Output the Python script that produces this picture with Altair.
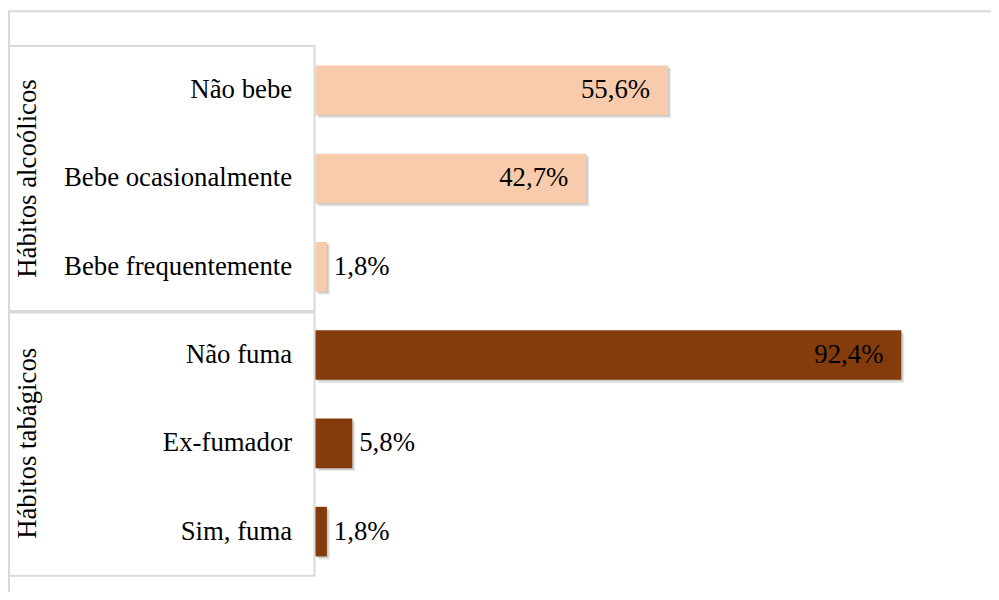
import altair as alt
import pandas as pd

categories = ["Não bebe", "Bebe ocasionalmente", "Bebe frequentemente",
              "Não fuma", "Ex-fumador", "Sim, fuma"]
groups = ["Hábitos alcoólicos"] * 3 + ["Hábitos tabágicos"] * 3
values = [55.6, 42.7, 1.8, 92.4, 5.8, 1.8]
group_names = ["Hábitos alcoólicos", "Hábitos tabágicos"]
group_mid = ["Bebe ocasionalmente", "Ex-fumador"]
colors = ["#F8CBAD", "#843C0C"]

FONT = "Liberation Serif"
FS = 27
GRAY = "#d9d9d9"

df = pd.DataFrame({
    "cat": categories,
    "group": groups,
    "value": values,
    "label": [f"{v:.1f}".replace(".", ",") + "%" for v in values],
})
gdf = pd.DataFrame({"cat": group_mid, "group": group_names})
one = pd.DataFrame({"k": [0]})

y = alt.Y("cat:N", sort=categories,
          scale=alt.Scale(paddingInner=0.438, paddingOuter=0.219),
          axis=alt.Axis(title=None, domain=False, ticks=False, grid=False,
                        labelPadding=24, labelFont=FONT, labelFontSize=FS,
                        labelColor="black", labelLimit=400))
x = alt.X("value:Q", scale=alt.Scale(domain=[0, 105.3], nice=False), axis=None)
color = alt.Color("group:N", scale=alt.Scale(domain=group_names, range=colors), legend=None)

base = alt.Chart(df)

shadow1 = base.mark_bar(color="#000000", opacity=0.10, xOffset=3, x2Offset=3,
                        yOffset=3, y2Offset=3).encode(x=x, y=y)
shadow2 = base.mark_bar(color="#000000", opacity=0.12, xOffset=1.5, x2Offset=1.5,
                        yOffset=1.5, y2Offset=1.5).encode(x=x, y=y)
bars = base.mark_bar().encode(x=x, y=y, color=color)

inside = base.transform_filter("datum.value > 20").mark_text(
    align="right", baseline="middle", dx=-18, font=FONT, fontSize=FS, color="black"
).encode(x=x, y=y, text="label:N")
outside = base.transform_filter("datum.value <= 20").mark_text(
    align="left", baseline="middle", dx=7, font=FONT, fontSize=FS, color="black"
).encode(x=x, y=y, text="label:N")

glabels = alt.Chart(gdf).mark_text(
    angle=270, align="center", baseline="middle", font=FONT, fontSize=FS, color="black"
).encode(y=alt.Y("cat:N", sort=categories), x=alt.value(-290), text="group:N")

box1 = alt.Chart(one).mark_rect(fillOpacity=0, stroke=GRAY, strokeWidth=2).encode(
    x=alt.value(-309), x2=alt.value(-1), y=alt.value(0), y2=alt.value(267))
box2 = alt.Chart(one).mark_rect(fillOpacity=0, stroke=GRAY, strokeWidth=2).encode(
    x=alt.value(-309), x2=alt.value(-1), y=alt.value(268.5), y2=alt.value(534))
top_line = alt.Chart(one).mark_rule(color=GRAY, strokeWidth=2).encode(
    x=alt.value(-310), x2=alt.value(700), y=alt.value(-35))
left_line = alt.Chart(one).mark_rule(color=GRAY, strokeWidth=2).encode(
    x=alt.value(-309), y=alt.value(-36), y2=alt.value(600))

chart = alt.layer(
    top_line, left_line, box1, box2, shadow1, shadow2, bars, inside, outside, glabels
).properties(
    width=673, height=534,
    padding={"left": 310, "top": 36, "right": 8, "bottom": 14},
    autosize=alt.AutoSizeParams(type="none"),
    background="white",
).configure_view(stroke=None)

chart.save("out.html", embed_options={"renderer": "svg", "actions": False})
